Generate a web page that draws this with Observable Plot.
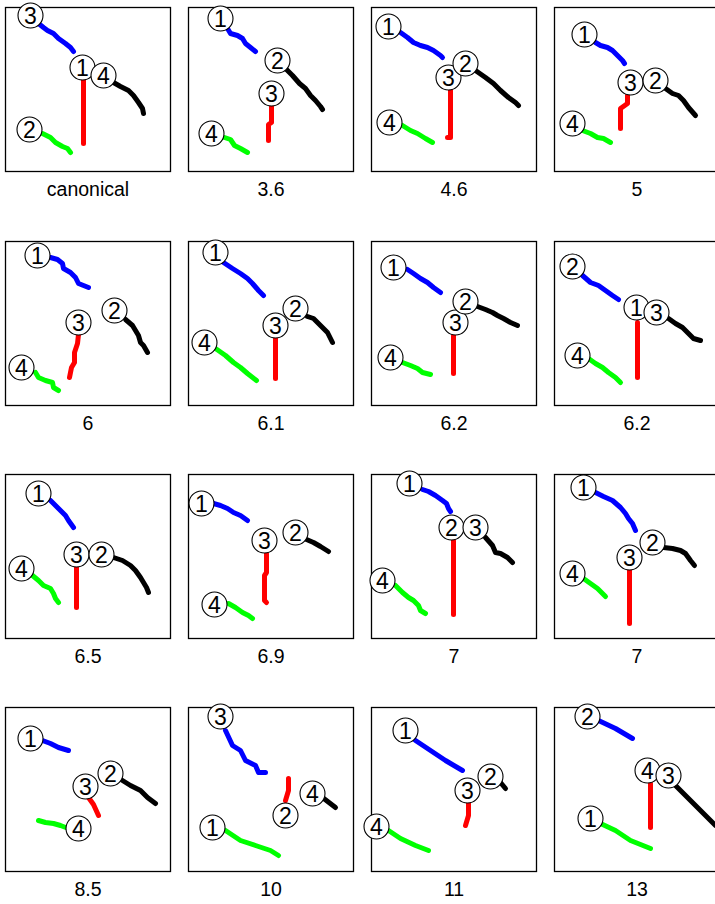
<!DOCTYPE html>
<html><head><meta charset="utf-8">
<script src="https://cdn.jsdelivr.net/npm/d3@7"></script>
<script src="https://cdn.jsdelivr.net/npm/@observablehq/plot@0.6"></script>
<style>
html,body{margin:0;padding:0;background:#fff;overflow:hidden;width:715px;height:904px}
#chart{position:relative;width:715px;height:904px;overflow:hidden}
.panel{position:absolute}
</style></head><body><div id="chart"></div>
<script>
const panelLabels = ["canonical","3.6","4.6","5","6","6.1","6.2","6.2","6.5","6.9","7","7","8.5","10","11","13"];

const blueLines = [
 [[33,16],[38,20],[42,23],[48,26],[53,31],[60,36],[65,40],[68,44]],
 [[39,21],[42,26],[49,28],[54,31],[57,36],[62,40],[67,44]],
 [[29,25],[36,30],[42,35],[49,38],[56,40],[62,43],[69,48],[71,50]],
 [[41,35],[46,38],[53,40],[58,43],[63,48],[68,53],[70,56]],
 [[45,16],[52,18],[57,22],[58,27],[65,31],[70,36],[73,42],[78,44],[83,46]],
 [[35,21],[44,27],[52,32],[59,37],[64,42],[70,49],[75,54]],
 [[36,28],[42,32],[49,37],[56,41],[62,46],[69,51]],
 [[28,34],[36,41],[44,44],[51,49],[58,54],[64,58]],
 [[45,26],[50,31],[55,36],[60,41],[63,46],[68,53]],
 [[25,29],[32,31],[39,34],[45,38],[52,41],[59,46]],
 [[51,15],[57,17],[64,21],[71,26],[75,29],[77,34],[79,37]],
 [[41,18],[49,22],[58,26],[66,33],[71,39],[74,44],[78,49],[81,56]],
 [[37,33],[45,36],[53,40],[63,43]],
 [[37,23],[44,38],[52,43],[57,53],[67,58],[70,65],[77,65]],
 [[44,33],[59,43],[74,53],[91,63]],
 [[44,13],[61,21],[78,31]]
];
const blackLines = [
 [[108,75],[115,79],[123,83],[128,88],[133,95],[137,101],[138,106]],
 [[97,61],[104,68],[111,76],[117,81],[122,88],[127,93],[132,99],[134,102]],
 [[104,63],[114,70],[122,76],[129,83],[137,90],[144,95],[147,98]],
 [[111,81],[118,86],[124,88],[129,93],[134,100],[141,108]],
 [[120,78],[127,84],[130,89],[133,94],[135,101],[138,104],[142,111]],
 [[119,75],[125,77],[132,84],[139,91],[144,101]],
 [[106,65],[114,68],[121,71],[126,74],[132,77],[139,81],[146,84]],
 [[114,77],[121,82],[128,86],[133,91],[139,97],[146,99]],
 [[108,83],[117,86],[125,91],[130,96],[135,103],[138,108],[141,113],[143,118]],
 [[118,65],[125,68],[132,72],[140,77]],
 [[114,63],[121,71],[124,78],[129,79],[136,83],[141,88]],
 [[109,73],[118,74],[126,76],[131,79],[136,86],[140,91]],
 [[117,73],[125,78],[135,83],[142,90],[150,96]],
 [[134,90],[147,100]],
 [[129,75],[134,81]],
 [[121,78],[161,118]]
];
const redLines = [
 [[78,71],[78,136]],
 [[83,99],[83,115],[80,117],[80,133]],
 [[79,82],[79,130],[76,130]],
 [[73,88],[73,96],[66,101],[66,121]],
 [[73,93],[72,102],[69,111],[69,121],[66,126],[64,136]],
 [[87,97],[87,137]],
 [[82,94],[82,132]],
 [[83,81],[83,136]],
 [[71,93],[71,133]],
 [[78,79],[78,98],[76,101],[76,126],[78,128]],
 [[82,66],[82,140]],
 [[75,96],[75,149]],
 [[83,90],[88,97],[93,108]],
 [[100,71],[100,83],[97,93]],
 [[97,96],[97,108],[94,118]],
 [[96,76],[96,120]]
];
const greenLines = [
 [[37,126],[45,130],[50,135],[57,139],[62,141],[65,145]],
 [[36,130],[42,132],[46,138],[52,141],[59,145]],
 [[31,118],[39,123],[46,126],[54,131],[61,135]],
 [[28,123],[36,126],[43,130],[49,131],[56,135]],
 [[30,131],[33,136],[40,139],[47,141],[48,146],[53,149]],
 [[27,107],[37,114],[45,121],[52,126],[59,132],[68,139]],
 [[31,121],[39,124],[46,127],[51,131],[59,133]],
 [[34,117],[41,122],[48,126],[54,131],[61,136],[66,141]],
 [[27,101],[33,106],[38,111],[45,114],[48,119],[50,124],[53,128]],
 [[40,129],[47,133],[54,138],[60,141],[64,144]],
 [[24,111],[31,118],[37,123],[42,126],[47,131],[49,136],[54,139]],
 [[29,104],[36,109],[43,114],[51,122]],
 [[33,113],[40,115],[48,116],[55,118],[63,121]],
 [[37,123],[52,133],[67,138],[82,143],[90,148]],
 [[17,123],[29,131],[44,138],[57,143]],
 [[46,116],[61,123],[76,133],[96,141]]
];

const blueNum  = [3,1,1,1,1,1,1,2,1,1,1,1,1,3,1,2];
const blackNum = [4,2,2,2,2,2,2,3,2,2,3,2,2,4,2,3];
const redNum   = [1,3,3,3,3,3,3,1,3,3,2,3,3,2,3,4];
const greenNum = [2,4,4,4,4,4,4,4,4,4,4,4,4,1,4,1];

const blueAt  = [[25,8],[32,11],[17,19],[30,27],[32,14],[27,11],[22,26],[18,25],[33,19],[13,29],[38,9],[29,13],[25,31],[32,9],[34,23],[33,9]];
const blackAt = [[98,68],[89,53],[94,56],[101,73],[109,69],[107,67],[94,60],[102,71],[96,80],[107,58],[104,53],[98,68],[105,66],[124,86],[119,69],[114,68]];
const redAt   = [[77,60],[83,86],[77,70],[76,75],[73,81],[87,84],[84,81],[82,66],[71,80],[76,66],[80,53],[75,83],[80,79],[97,108],[96,83],[93,63]];
const greenAt = [[24,122],[23,126],[18,115],[18,116],[16,126],[16,101],[19,116],[23,114],[16,94],[26,130],[11,106],[18,99],[73,121],[24,120],[5,119],[36,111]];

const series = [
  {name:"blue", color:"#0000ff", lines:blueLines, nums:blueNum, at:blueAt},
  {name:"red", color:"#ff0000", lines:redLines, nums:redNum, at:redAt},
  {name:"black", color:"#000000", lines:blackLines, nums:blackNum, at:blackAt},
  {name:"green", color:"#00ff00", lines:greenLines, nums:greenNum, at:greenAt}
];

const colLeft = [5,188,371,554];
const rowTop = [7,241,474,707];
const chart = document.getElementById("chart");

panelLabels.forEach((label, i) => {
  const rows = [];
  series.forEach(s => s.lines[i].forEach(([x,y]) => rows.push({x, y, k:s.name, color:s.color})));
  const circles = series.map(s => ({x:s.at[i][0], y:s.at[i][1], n:String(s.nums[i])}));
  const plot = Plot.plot({
    width:167, height:200, marginTop:1, marginLeft:1, marginRight:1, marginBottom:35,
    x:{domain:[0,165], axis:null},
    y:{domain:[0,164], reverse:true, axis:null},
    color:{type:"identity"},
    style:{fontFamily:"'Liberation Sans', Arial, Helvetica, sans-serif", background:"transparent", overflow:"visible"},
    marks:[
      Plot.frame({stroke:"#000", strokeWidth:1.3}),
      Plot.line(rows, {x:"x", y:"y", z:"k", stroke:"color", strokeWidth:5, strokeLinejoin:"round", strokeLinecap:"round"}),
      Plot.dot(circles, {x:"x", y:"y", r:12.5, fill:"white", stroke:"black", strokeWidth:1.1}),
      Plot.text(circles, {x:"x", y:"y", text:"n", fontSize:23, fill:"black", dy:1}),
      Plot.text([label], {frameAnchor:"bottom", dy:24, text:d=>d, fontSize:19.5, fill:"black"})
    ]
  });
  const c = i % 4, r = Math.floor(i/4);
  plot.classList.add("panel");
  plot.style.left = (colLeft[c]-1) + "px";
  plot.style.top = (rowTop[r]-1) + "px";
  chart.appendChild(plot);
});
</script></body></html>
